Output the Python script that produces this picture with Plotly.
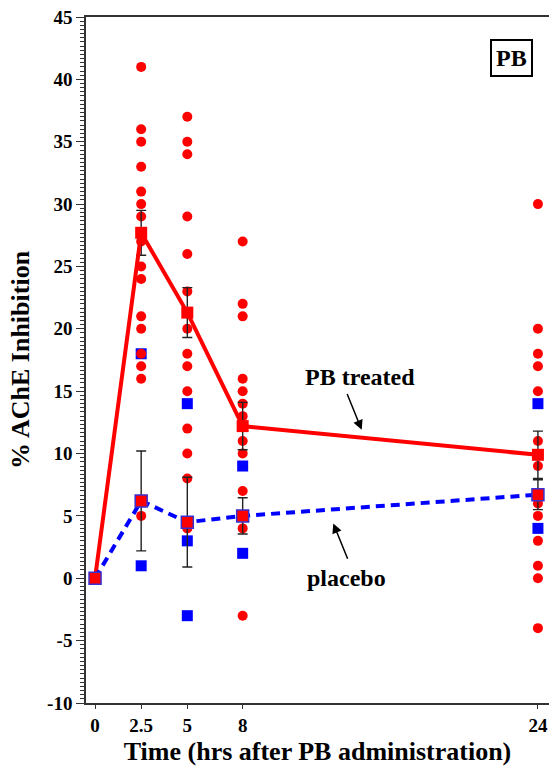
import plotly.graph_objects as go

# ---- data ----
times = [0, 2.5, 5, 8, 24]
x_tick_labels = ["0", "2.5", "5", "8", "24"]
y_tick_values = [-10, -5, 0, 5, 10, 15, 20, 25, 30, 35, 40, 45]
y_tick_labels = ["-10", "-5", "0", "5", "10", "15", "20", "25", "30", "35", "40", "45"]

pb_mean = [0, 27.7, 21.3, 12.2, 9.9]
pb_sem = [0, 1.8, 2.0, 1.9, 1.9]
placebo_mean = [0, 6.2, 4.5, 5.0, 6.7]
placebo_sem = [0, 4.0, 3.6, 1.45, 1.2]

pb_t2_5 = [41, 36, 35, 33, 31, 30, 29, 27, 25, 24, 21, 20, 18, 17, 16, 5]
pb_t5 = [37, 35, 34, 29, 26, 23, 20, 18, 17, 15, 12, 10, 8, 4]
pb_t8 = [27, 22, 21, 16, 15, 14, 13, 11, 10, 7, 5, 4, -3]
pb_t24 = [30, 20, 18, 17, 15, 11, 9, 6, 5, 3, 1, 0, -4]

pl_t2_5 = [18, 1]
pl_t5 = [14, 3, -3]
pl_t8 = [9, 2]
pl_t24 = [14, 4]

pb_individual = {2.5: pb_t2_5, 5: pb_t5, 8: pb_t8, 24: pb_t24}
pl_individual = {2.5: pl_t2_5, 5: pl_t5, 8: pl_t8, 24: pl_t24}

FONT = "Liberation Serif"
RED = "#ff0000"
BLUE = "#0000ff"
AXC = "#333333"

fig = go.Figure()

# individual placebo values (blue squares)
px_, py_ = [], []
for t, vals in pl_individual.items():
    px_ += [t] * len(vals)
    py_ += vals
fig.add_trace(go.Scatter(x=px_, y=py_, mode="markers",
                         marker=dict(symbol="square", size=11, color=BLUE, line=dict(width=0)),
                         showlegend=False, hoverinfo="skip", cliponaxis=False))

# individual PB values (red dots)
rx, ry = [], []
for t, vals in pb_individual.items():
    rx += [t] * len(vals)
    ry += vals
fig.add_trace(go.Scatter(x=rx, y=ry, mode="markers",
                         marker=dict(symbol="circle", size=10, color=RED, line=dict(width=0)),
                         showlegend=False, hoverinfo="skip", cliponaxis=False))

# error bars
fig.add_trace(go.Scatter(x=times, y=pb_mean, mode="markers",
                         marker=dict(size=1, color="rgba(0,0,0,0)"),
                         error_y=dict(type="data", array=pb_sem, visible=True,
                                      color="#222222", thickness=1.4, width=5),
                         showlegend=False, hoverinfo="skip"))
fig.add_trace(go.Scatter(x=times, y=placebo_mean, mode="markers",
                         marker=dict(size=1, color="rgba(0,0,0,0)"),
                         error_y=dict(type="data", array=placebo_sem, visible=True,
                                      color="#222222", thickness=1.4, width=5),
                         showlegend=False, hoverinfo="skip"))

# mean lines
fig.add_trace(go.Scatter(x=times, y=pb_mean, mode="lines+markers",
                         line=dict(color=RED, width=4),
                         marker=dict(symbol="square", size=12, color=RED),
                         showlegend=False, hoverinfo="skip", cliponaxis=False))
fig.add_trace(go.Scatter(x=times, y=placebo_mean, mode="lines+markers",
                         line=dict(color=BLUE, width=4, dash="9px,6px"),
                         marker=dict(symbol="square", size=12, color=RED,
                                     line=dict(color="#3a2fd0", width=1.5)),
                         showlegend=False, hoverinfo="skip", cliponaxis=False))

# annotations
fig.add_annotation(x=14.36, y=16.1, text="<b>PB treated</b>", showarrow=False,
                   font=dict(family=FONT, size=24, color="black"))
fig.add_annotation(x=14.45, y=11.9, ax=13.63, ay=14.9, axref="x", ayref="y",
                   text="", showarrow=True, arrowhead=2, arrowsize=1.3,
                   arrowwidth=1.5, arrowcolor="black")
fig.add_annotation(x=13.62, y=0.0, text="<b>placebo</b>", showarrow=False,
                   font=dict(family=FONT, size=24, color="black"))
fig.add_annotation(x=12.91, y=4.4, ax=13.72, ay=1.45, axref="x", ayref="y",
                   text="", showarrow=True, arrowhead=2, arrowsize=1.3,
                   arrowwidth=1.5, arrowcolor="black")
fig.add_annotation(xref="paper", yref="paper", x=0.92, y=0.94,
                   xanchor="center", yanchor="middle",
                   text="<b>PB</b>", showarrow=False,
                   font=dict(family=FONT, size=24, color="black"),
                   bordercolor="black", borderwidth=2, borderpad=4, bgcolor="white")

fig.update_layout(
    width=549, height=766,
    margin=dict(l=86, r=0, t=17, b=63, autoexpand=False),
    plot_bgcolor="white", paper_bgcolor="white",
    font=dict(family=FONT, color="black"),
    xaxis=dict(range=[-0.49, 24.6], tickmode="array", tickvals=times, ticktext=x_tick_labels,
               showgrid=False, zeroline=False, showline=True, linecolor=AXC, linewidth=1.5,
               mirror=True, ticks="outside", ticklen=4, tickcolor=AXC, automargin=False,
               tickfont=dict(family=FONT, size=19, weight="bold"),
               title=dict(text="<b>Time (hrs after PB administration)</b>",
                          font=dict(family=FONT, size=26), standoff=8)),
    yaxis=dict(range=[-10, 45], tickmode="array", tickvals=y_tick_values, ticktext=y_tick_labels,
               showgrid=False, zeroline=False, automargin=False,
               showline=True, linecolor=AXC, linewidth=1.5,
               ticks="outside", ticklen=8, tickcolor=AXC,
               minor=dict(dtick=1 / 3, tick0=0, ticks="outside", ticklen=4, tickcolor=AXC,
                          showgrid=False),
               tickfont=dict(family=FONT, size=19, weight="bold"),
               title=dict(text="<b>% AChE Inhibition</b>",
                          font=dict(family=FONT, size=26), standoff=10)),
)

fig.write_html("out.html", config={"displayModeBar": False},
               post_script="document.body.style.margin='0';")
